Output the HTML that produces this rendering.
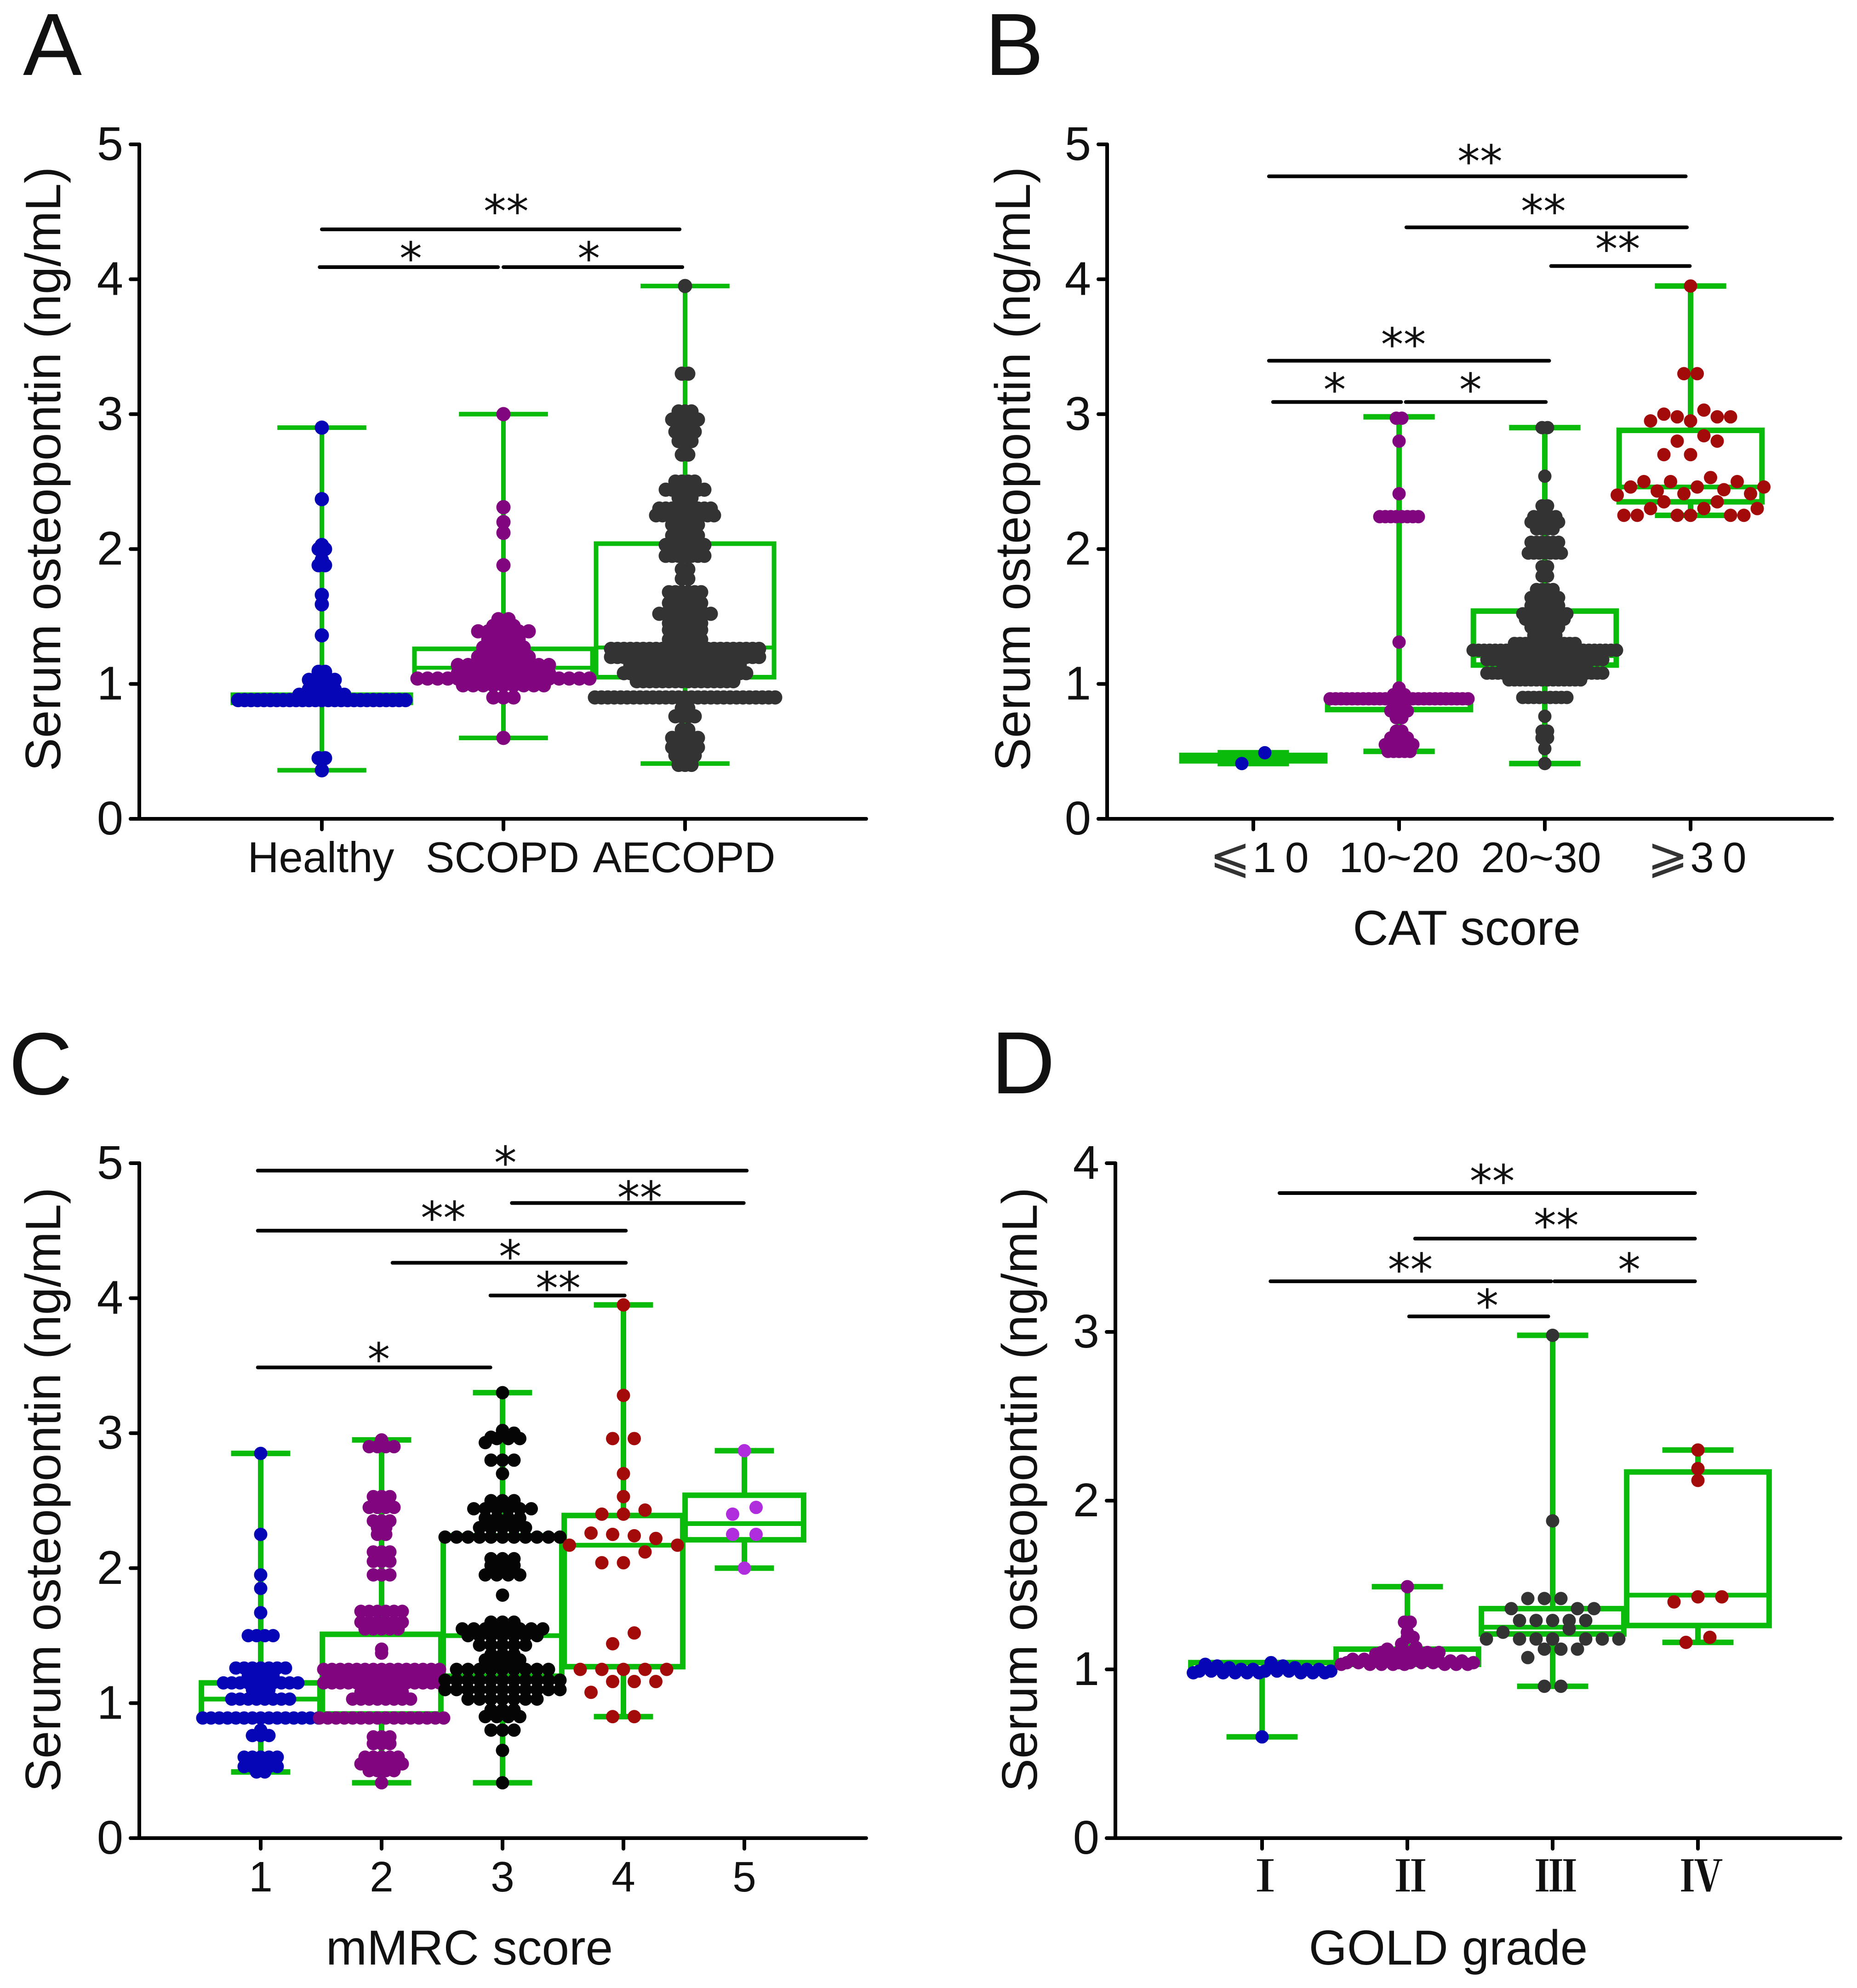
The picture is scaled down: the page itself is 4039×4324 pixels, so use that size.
<!DOCTYPE html>
<html lang="en">
<head>
<meta charset="utf-8">
<title>Serum osteopontin panels</title>
<style>
html,body{margin:0;padding:0;background:#fff;}
svg{display:block;}
text{font-family:"Liberation Sans",sans-serif;fill:#111;}
.y-title{font-size:108.5px;}
.x-title{font-size:107px;}
.letter{font-size:192px;}
</style>
</head>
<body>
<svg id="figure" xmlns="http://www.w3.org/2000/svg" width="4039" height="4324" viewBox="0 0 4039 4324">
  <rect x="0" y="0" width="4039" height="4324" fill="#fff"/>
  <text class="letter" x="50" y="163">A</text>
  <text class="letter" x="2142" y="163">B</text>
  <text class="letter" x="19" y="2380">C</text>
  <text class="letter" x="2156" y="2378">D</text>
  <text class="y-title" text-anchor="middle" transform="translate(131 1020) rotate(-90)">Serum osteopontin (ng/mL)</text>
  <text class="y-title" text-anchor="middle" transform="translate(2240 1020) rotate(-90)">Serum osteopontin (ng/mL)</text>
  <text class="y-title" text-anchor="middle" transform="translate(131 3240) rotate(-90)">Serum osteopontin (ng/mL)</text>
  <text class="y-title" text-anchor="middle" transform="translate(2255 3240) rotate(-90)">Serum osteopontin (ng/mL)</text>
  <text class="x-title" text-anchor="middle" x="3190" y="2055">CAT score</text>
  <text class="x-title" text-anchor="middle" x="1021" y="4273">mMRC score</text>
  <text class="x-title" text-anchor="middle" x="3150" y="4273">GOLD grade</text>
</svg>
<script>
/* ---------- shared tick values ---------- */
const ticksToFive = [0, 1, 2, 3, 4, 5];
const ticksToFour = [0, 1, 2, 3, 4];

/* ---------- panel A ---------- */
const aCategories = ['Healthy', 'SCOPD', 'AECOPD'];
const aWhiskerLow = [0.36, 0.6, 0.41];
const aWhiskerHigh = [2.9, 3.0, 3.95];
const aQ1 = [0.86, 1.05, 1.05];
const aMedian = [0.88, 1.12, 1.27];
const aQ3 = [0.92, 1.26, 2.04];
const healthyLevels = [0.36, 0.45, 0.88, 0.92, 0.96, 1.03, 1.09, 1.36, 1.59, 1.66, 1.88, 1.92, 2.0, 2.03, 2.37, 2.9];
const healthyCounts = [1, 2, 27, 8, 5, 5, 2, 1, 1, 1, 2, 1, 2, 1, 1, 1];
const scopdLevels = [0.6, 0.9, 0.99, 1.04, 1.08, 1.14, 1.2, 1.27, 1.33, 1.39, 1.43, 1.48, 1.88, 2.12, 2.2, 2.31, 3.0];
const scopdCounts = [1, 3, 9, 18, 10, 10, 6, 5, 4, 6, 3, 2, 1, 1, 1, 1, 1];
const aecopdLevels = [0.4, 0.47, 0.53, 0.6, 0.66, 0.76, 0.82, 0.9, 1.02, 1.08, 1.14, 1.2, 1.26, 1.33, 1.4, 1.45, 1.52, 1.6, 1.68, 1.78, 1.85, 1.95, 2.03, 2.1, 2.18, 2.25, 2.3, 2.38, 2.44, 2.5, 2.7, 2.8, 2.87, 2.96, 3.02, 3.3, 3.95];
const aecopdCounts = [3, 4, 5, 5, 2, 4, 2, 29, 16, 20, 18, 24, 24, 6, 6, 6, 9, 6, 6, 2, 2, 7, 7, 5, 5, 10, 9, 3, 7, 4, 2, 3, 4, 5, 3, 2, 1];

/* ---------- panel B ---------- */
const bCategories = ['⩽10', '10~20', '20~30', '⩾30'];
const bWhiskerLow = [0.41, 0.5, 0.41, 2.25];
const bWhiskerHigh = [0.49, 2.98, 2.9, 3.95];
const bQ1 = [0.43, 0.81, 1.14, 2.35];
const bMedian = [0.45, 0.86, 1.21, 2.46];
const bQ3 = [0.47, 0.9, 1.54, 2.88];
const catLowLevels = [0.41, 0.49];
const catLowCounts = [1, 1];
const catMidLevels = [0.5, 0.55, 0.6, 0.65, 0.75, 0.8, 0.86, 0.89, 0.92, 0.97, 1.31, 2.24, 2.41, 2.8, 2.97];
const catMidCounts = [5, 6, 4, 2, 2, 4, 3, 26, 3, 1, 1, 8, 1, 1, 2];
const catHighLevels = [0.41, 0.52, 0.6, 0.65, 0.76, 0.9, 1.03, 1.08, 1.14, 1.18, 1.25, 1.3, 1.36, 1.42, 1.48, 1.52, 1.58, 1.64, 1.7, 1.8, 1.87, 1.97, 2.05, 2.15, 2.2, 2.24, 2.32, 2.54, 2.9];
const catHighCounts = [1, 1, 2, 2, 1, 9, 14, 22, 16, 22, 27, 12, 5, 6, 8, 9, 6, 6, 4, 2, 2, 7, 6, 4, 6, 5, 2, 1, 2];
const catTopLevels = [2.25, 2.3, 2.35, 2.4, 2.41, 2.43, 2.44, 2.46, 2.5, 2.53, 2.7, 2.8, 2.84, 2.95, 2.98, 3.0, 3.03, 3.3, 3.95];
const catTopCounts = [6, 3, 2, 1, 2, 1, 1, 3, 3, 1, 2, 2, 1, 2, 3, 1, 1, 2, 1];

/* ---------- panel C ---------- */
const cCategories = ['1', '2', '3', '4', '5'];
const cWhiskerLow = [0.49, 0.41, 0.41, 0.9, 2.0];
const cWhiskerHigh = [2.85, 2.95, 3.3, 3.95, 2.87];
const cQ1 = [0.89, 0.92, 1.2, 1.27, 2.21];
const cMedian = [1.03, 1.17, 1.5, 2.17, 2.33];
const cQ3 = [1.15, 1.51, 2.24, 2.39, 2.54];
const mmrcOneLevels = [0.49, 0.53, 0.6, 0.76, 0.8, 0.89, 1.03, 1.1, 1.15, 1.2, 1.26, 1.5, 1.67, 1.85, 1.95, 2.25, 2.85];
const mmrcOneCounts = [2, 5, 5, 3, 1, 15, 8, 3, 10, 4, 7, 4, 1, 1, 1, 1, 1];
const mmrcTwoLevels = [0.41, 0.5, 0.55, 0.6, 0.7, 0.75, 0.89, 1.03, 1.08, 1.15, 1.2, 1.25, 1.37, 1.4, 1.55, 1.6, 1.68, 1.95, 2.05, 2.12, 2.25, 2.3, 2.35, 2.45, 2.53, 2.9, 2.95];
const mmrcTwoCounts = [1, 4, 6, 5, 3, 3, 16, 8, 6, 15, 14, 15, 1, 1, 5, 6, 6, 3, 3, 3, 2, 2, 3, 4, 3, 4, 1];
const mmrcThreeLevels = [0.41, 0.65, 0.8, 0.9, 0.95, 1.03, 1.1, 1.17, 1.25, 1.32, 1.36, 1.43, 1.5, 1.55, 1.6, 1.8, 1.95, 2.02, 2.07, 2.23, 2.3, 2.37, 2.44, 2.5, 2.7, 2.8, 2.93, 2.96, 2.97, 2.99, 3.0, 3.02, 3.3];
const mmrcThreeCounts = [1, 1, 3, 4, 3, 7, 11, 11, 9, 4, 3, 5, 7, 8, 3, 1, 4, 3, 3, 11, 5, 4, 6, 3, 1, 3, 1, 3, 1, 1, 1, 1, 1];
const mmrcFourLevels = [0.9, 1.08, 1.16, 1.25, 1.44, 1.52, 2.04, 2.12, 2.17, 2.22, 2.24, 2.25, 2.26, 2.4, 2.43, 2.53, 2.7, 2.96, 3.28, 3.95];
const mmrcFourCounts = [2, 1, 3, 5, 1, 1, 2, 1, 2, 1, 1, 1, 1, 2, 1, 1, 1, 2, 1, 1];
const mmrcFiveLevels = [2.0, 2.25, 2.4, 2.45, 2.87];
const mmrcFiveCounts = [1, 2, 1, 1, 1];

/* ---------- panel D ---------- */
const dCategories = ['Ⅰ', 'Ⅱ', 'Ⅲ', 'Ⅳ'];
const dWhiskerLow = [0.6, 1.03, 0.9, 1.16];
const dWhiskerHigh = [1.04, 1.49, 2.98, 2.3];
const dQ1 = [0.99, 1.03, 1.21, 1.26];
const dMedian = [1.0, 1.05, 1.25, 1.44];
const dQ3 = [1.04, 1.12, 1.36, 2.17];
const goldOneLevels = [0.6, 0.98, 0.99, 1.0, 1.01, 1.02, 1.03, 1.04];
const goldOneCounts = [1, 8, 6, 4, 2, 2, 1, 1];
const goldTwoLevels = [1.03, 1.04, 1.05, 1.06, 1.07, 1.09, 1.1, 1.12, 1.13, 1.15, 1.19, 1.22, 1.28, 1.49];
const goldTwoCounts = [8, 7, 5, 3, 1, 5, 5, 1, 1, 1, 2, 1, 2, 1];
const goldThreeLevels = [0.9, 1.07, 1.12, 1.18, 1.22, 1.24, 1.29, 1.36, 1.42, 1.88, 2.98];
const goldThreeCounts = [2, 1, 3, 7, 1, 1, 5, 3, 3, 1, 1];
const goldFourLevels = [1.16, 1.19, 1.4, 1.43, 2.12, 2.19, 2.3];
const goldFourCounts = [1, 1, 1, 2, 1, 1, 1];

/* ---------- significance brackets (category index / axis value units) ---------- */
const aBracketFrom = [0.0, -0.012, 1.0];
const aBracketTo = [1.97, 0.97, 1.985];
const aBracketLevel = [4.37, 4.09, 4.09];
const aStarAt = [1.015, 0.49, 1.47];
const aStarLevel = [4.55, 4.2, 4.2];
const aStarText = ['**', '*', '*'];

const bBracketFrom = [0.107, 1.05, 2.043, 0.107, 0.135, 1.046];
const bBracketTo = [2.967, 2.975, 2.995, 2.03, 1.014, 2.007];
const bBracketLevel = [4.763, 4.385, 4.098, 3.396, 3.09, 3.09];
const bStarAt = [1.555, 1.99, 2.5, 1.03, 0.558, 1.49];
const bStarLevel = [4.92, 4.55, 4.27, 3.564, 3.227, 3.227];
const bStarText = ['**', '**', '**', '**', '*', '*'];

const cBracketFrom = [-0.024, 2.077, -0.024, 1.09, 1.9, -0.024];
const cBracketTo = [4.02, 3.995, 3.02, 3.02, 3.01, 1.9];
const cBracketLevel = [4.945, 4.705, 4.5, 4.262, 4.02, 3.487];
const cStarAt = [2.024, 3.135, 1.51, 2.063, 2.46, 0.976];
const cStarLevel = [5.05, 4.79, 4.64, 4.354, 4.12, 3.593];
const cStarText = ['*', '**', '**', '*', '**', '*'];

const dBracketFrom = [0.12, 1.053, 0.058, 2.012, 1.012];
const dBracketTo = [2.98, 2.98, 1.99, 2.98, 1.97];
const dBracketLevel = [3.823, 3.553, 3.3, 3.3, 3.092];
const dStarAt = [1.584, 2.025, 1.02, 2.527, 1.55];
const dStarLevel = [3.93, 3.668, 3.406, 3.406, 3.192];
const dStarText = ['**', '**', '**', '*', '*'];

/* ---------- layout ---------- */
const BLUE = '#0606b6', PURPLE = '#80057f', DARK = '#333333', BLACK = '#050505', RED = '#a30a0a', VIOLET = '#b02ddd', GREEN = '#0bbb0b';

const panels = [
  { key: 'a', axisX: 303, right: 1884, y0: 1781, unit: 293.4, ticks: ticksToFive, cat0: 700, catStep: 395, dotR: 15.5, green: 10,
    categories: aCategories, low: aWhiskerLow, high: aWhiskerHigh, q1: aQ1, med: aMedian, q3: aQ3,
    labelShift: [-2, -2, -2], labelSize: 94, labelFamily: '"Liberation Sans",sans-serif', labelWeight: 400,
    series: [
      { levels: healthyLevels, counts: healthyCounts, color: BLUE, step: 14, bin: 0 },
      { levels: scopdLevels, counts: scopdCounts, color: PURPLE, step: 22, bin: 0 },
      { levels: aecopdLevels, counts: aecopdCounts, color: DARK, step: 14, bin: 0 }
    ],
    from: aBracketFrom, to: aBracketTo, level: aBracketLevel, starAt: aStarAt, starLevel: aStarLevel, starText: aStarText },
  { key: 'b', axisX: 2408, right: 3985, y0: 1781, unit: 293.4, ticks: ticksToFive, cat0: 2726, catStep: 317, dotR: 14.5, green: 12,
    categories: bCategories, low: bWhiskerLow, high: bWhiskerHigh, q1: bQ1, med: bMedian, q3: bQ3,
    labelShift: [22, 0, -8, 23], labelSize: 93, labelFamily: '"Liberation Sans","DejaVu Sans",sans-serif', labelWeight: 400,
    series: [
      { levels: catLowLevels, counts: catLowCounts, color: BLUE, step: 50, bin: 0.1 },
      { levels: catMidLevels, counts: catMidCounts, color: PURPLE, step: 12, bin: 0 },
      { levels: catHighLevels, counts: catHighCounts, color: DARK, step: 12, bin: 0 },
      { levels: catTopLevels, counts: catTopCounts, color: RED, step: 29, bin: 0.14 }
    ],
    from: bBracketFrom, to: bBracketTo, level: bBracketLevel, starAt: bStarAt, starLevel: bStarLevel, starText: bStarText },
  { key: 'c', axisX: 303, right: 1884, y0: 3998, unit: 293.6, ticks: ticksToFive, cat0: 567, catStep: 263, dotR: 14.5, green: 12,
    categories: cCategories, low: cWhiskerLow, high: cWhiskerHigh, q1: cQ1, med: cMedian, q3: cQ3,
    labelShift: [0, 0, 0, 0, 0], labelSize: 93, labelFamily: '"Liberation Sans",sans-serif', labelWeight: 400,
    series: [
      { levels: mmrcOneLevels, counts: mmrcOneCounts, color: BLUE, step: 18, bin: 0 },
      { levels: mmrcTwoLevels, counts: mmrcTwoCounts, color: PURPLE, step: 18, bin: 0 },
      { levels: mmrcThreeLevels, counts: mmrcThreeCounts, color: BLACK, step: 25, bin: 0.04 },
      { levels: mmrcFourLevels, counts: mmrcFourCounts, color: RED, step: 47, bin: 0.1 },
      { levels: mmrcFiveLevels, counts: mmrcFiveCounts, color: VIOLET, step: 51, bin: 0.1 }
    ],
    from: cBracketFrom, to: cBracketTo, level: cBracketLevel, starAt: cStarAt, starLevel: cStarLevel, starText: cStarText },
  { key: 'd', axisX: 2426, right: 4003, y0: 3998, unit: 367, ticks: ticksToFour, cat0: 2745, catStep: 316, dotR: 14.5, green: 12,
    categories: dCategories, low: dWhiskerLow, high: dWhiskerHigh, q1: dQ1, med: dMedian, q3: dQ3,
    labelShift: [7, 7, 7, 8], labelSize: 93, labelFamily: '"Noto Serif CJK SC",serif', labelWeight: 700,
    series: [
      { levels: goldOneLevels, counts: goldOneCounts, color: BLUE, step: 13, bin: 0.12 },
      { levels: goldTwoLevels, counts: goldTwoCounts, color: PURPLE, step: 12.5, bin: 0.05 },
      { levels: goldThreeLevels, counts: goldThreeCounts, color: DARK, step: 36, bin: 0.07 },
      { levels: goldFourLevels, counts: goldFourCounts, color: RED, step: 52, bin: 0.06 }
    ],
    from: dBracketFrom, to: dBracketTo, level: dBracketLevel, starAt: dStarAt, starLevel: dStarLevel, starText: dStarText }
];

const NS = 'http://www.w3.org/2000/svg';
const figure = document.getElementById('figure');

function make(tag, attrs, parent) {
  const el = document.createElementNS(NS, tag);
  for (const k in attrs) el.setAttribute(k, attrs[k]);
  parent.appendChild(el);
  return el;
}
function gcd(a, b) { return b ? gcd(b, a % b) : a; }

/* Prism-style swarm: values falling in one bin sit side by side on a grid. */
function swarm(levels, counts, bin) {
  const values = [];
  levels.forEach((v, i) => { for (let c = 0; c < counts[i]; c++) values.push(v); });
  values.sort((a, b) => a - b);
  const bins = [];
  values.forEach(v => {
    const cur = bins[bins.length - 1];
    if (cur && (v === cur[0] || v - cur[0] < bin)) cur.push(v);
    else bins.push([v]);
  });
  const placed = [];
  bins.forEach(group => {
    const n = group.length;
    let k = Math.max(1, Math.round(n * 0.38));
    while (gcd(k, n) !== 1) k++;
    group.forEach((v, i) => {
      const slot = (i * k) % n;
      placed.push({ value: v, slot: slot - (n - 1) / 2 });
    });
  });
  return placed;
}

panels.forEach(p => {
  const xScale = i => p.cat0 + i * p.catStep;
  const yScale = v => p.y0 - v * p.unit;
  const top = yScale(p.ticks[p.ticks.length - 1]);

  const panel = make('g', {}, figure);
  
  

  /* boxes and whiskers, behind the dots */
  const boxes = make('g', { fill: 'none', stroke: GREEN, 'stroke-width': p.green }, panel);
  
  
  p.categories.forEach((c, i) => {
    const cx = xScale(i);
    const capW = p.catStep * 0.245;
    const boxW = p.catStep * 0.49;
    const whisker = make('line', { x1: cx, x2: cx, y1: yScale(p.low[i]), y2: yScale(p.high[i]) }, boxes);
    
    
    [p.low[i], p.high[i]].forEach(v => {
      const cap = make('line', { x1: cx - capW, x2: cx + capW, y1: yScale(v), y2: yScale(v) }, boxes);
      
      
    });
    const box = make('rect', { x: cx - boxW, width: boxW * 2, y: yScale(p.q3[i]), height: yScale(p.q1[i]) - yScale(p.q3[i]), fill: '#fff' }, boxes);
    
    
    const med = make('line', { x1: cx - boxW, x2: cx + boxW, y1: yScale(p.med[i]), y2: yScale(p.med[i]), 'stroke-width': p.green * 0.85 }, boxes);
    
    
  });

  /* swarm dots */
  p.series.forEach((s, i) => {
    const g = make('g', { fill: s.color }, panel);
    
    
    swarm(s.levels, s.counts, s.bin).forEach(pt => {
      const dot = make('circle', { cx: xScale(i) + pt.slot * s.step, cy: yScale(pt.value), r: p.dotR }, g);
      
      
    });
  });

  /* axes */
  const axes = make('g', { stroke: '#000', 'stroke-width': 8, 'stroke-linecap': 'round', fill: 'none' }, panel);
  
  
  const yAxis = make('line', { x1: p.axisX, x2: p.axisX, y1: top, y2: p.y0 }, axes);
  
  
  const xAxis = make('line', { x1: p.axisX - 19, x2: p.right, y1: p.y0, y2: p.y0 }, axes);
  
  

  p.ticks.forEach(t => {
    const tick = make('line', { x1: p.axisX - 19, x2: p.axisX, y1: yScale(t), y2: yScale(t) }, axes);
    
    
    const label = make('text', { x: p.axisX - 35, y: yScale(t) + 34, 'text-anchor': 'end', 'font-size': 103 }, panel);
    
    
    label.textContent = t;
  });

  p.categories.forEach((c, i) => {
    const cx = xScale(i);
    const tick = make('line', { x1: cx, x2: cx, y1: p.y0, y2: p.y0 + 23 }, axes);
    
    
    const label = make('text', { x: cx + p.labelShift[i], y: p.y0 + 116, 'text-anchor': 'middle', 'font-size': p.labelSize, 'font-weight': p.labelWeight }, panel);
    label.style.fontFamily = p.labelFamily;
    
    
    if (/^[⩽⩾]/.test(c)) {
      const sign = make('tspan', { 'font-size': 107, 'letter-spacing': 4 }, label);
      sign.style.fontFamily = '"DejaVu Sans",sans-serif';
      sign.style.fill = '#333';
      sign.textContent = c.charAt(0);
      const digits = make('tspan', { 'letter-spacing': 19 }, label);
      digits.textContent = c.slice(1);
    } else {
      label.textContent = c;
    }
  });

  /* significance brackets */
  const notes = make('g', {}, panel);
  
  
  p.from.forEach((f, i) => {
    const line = make('line', { x1: xScale(f), x2: xScale(p.to[i]), y1: yScale(p.level[i]), y2: yScale(p.level[i]), stroke: '#000', 'stroke-width': 8, 'stroke-linecap': 'round' }, notes);
    
    
    const star = make('text', { x: xScale(p.starAt[i]), y: yScale(p.starLevel[i]) + 48, 'text-anchor': 'middle', 'font-size': 98 }, notes);
    star.style.fontFamily = '"DejaVu Sans",sans-serif';
    
    
    star.textContent = p.starText[i];
  });
});
</script>
</body>
</html>
